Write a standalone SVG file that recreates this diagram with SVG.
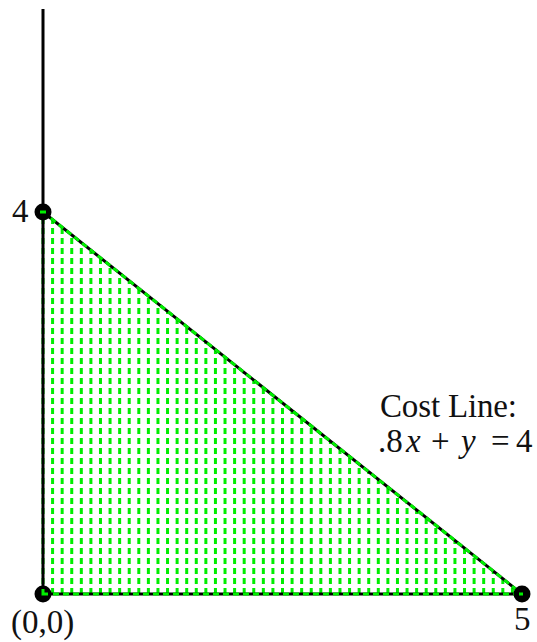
<svg xmlns="http://www.w3.org/2000/svg" width="537" height="642" viewBox="0 0 537 642">
<style>
.ax{stroke:#000;stroke-width:3;fill:none}
.gr{stroke:#00ee00;stroke-width:3;fill:none;stroke-dasharray:6 4}
.pt{fill:#000}
.lb{font-family:"Liberation Serif",serif;font-size:33px;fill:#111}
</style>
<rect width="537" height="642" fill="#fff"/>
<g id="region">
<path class="gr" d="M43 594V212M52.58 594V219.64M62.16 594V227.28M71.74 594V234.92M81.32 594V242.56M90.9 594V250.2M100.48 594V257.84M110.06 594V265.48M119.64 594V273.12M129.22 594V280.76M138.8 594V288.4M148.38 594V296.04M157.96 594V303.68M167.54 594V311.32M177.12 594V318.96M186.7 594V326.6M196.28 594V334.24M205.86 594V341.88M215.44 594V349.52M225.02 594V357.16M234.6 594V364.8M244.18 594V372.44M253.76 594V380.08M263.34 594V387.72M272.92 594V395.36M282.5 594V403M292.08 594V410.64M301.66 594V418.28M311.24 594V425.92M320.82 594V433.56M330.4 594V441.2M339.98 594V448.84M349.56 594V456.48M359.14 594V464.12M368.72 594V471.76M378.3 594V479.4M387.88 594V487.04M397.46 594V494.68M407.04 594V502.32M416.62 594V509.96M426.2 594V517.6M435.78 594V525.24M445.36 594V532.88M454.94 594V540.52M464.52 594V548.16M474.1 594V555.8M483.68 594V563.44M493.26 594V571.08M502.84 594V578.72M512.42 594V586.36"/>
</g>
<g id="connectors">
<path class="ax" d="M43 9V594H522L43 212"/>
<path class="gr" d="M43 594H522M43 212L522 594"/>
</g>
<g id="p04">
<circle class="pt" cx="43" cy="212" r="8.5"/>
<path d="M40 212h6" stroke="#00ee00" stroke-width="3"/>
<text class="lb" x="12" y="222">4</text>
</g>
<g id="p00">
<circle class="pt" cx="43" cy="594" r="8.5"/>
<path d="M43 589v5h5" stroke="#00ee00" stroke-width="3" fill="none"/>
<text class="lb" x="11" y="633">(0,0)</text>
</g>
<g id="p50">
<circle class="pt" cx="522" cy="594" r="8.5"/>
<path d="M519 594h4" stroke="#00ee00" stroke-width="3"/>
<text class="lb" x="514" y="630">5</text>
</g>
<g id="costlabel">
<text class="lb" x="380" y="417" textLength="137">Cost Line:</text>
<text class="lb" y="452"><tspan x="378">.8</tspan><tspan x="406" font-style="italic">x</tspan><tspan x="431">+</tspan><tspan x="461" font-style="italic">y</tspan><tspan x="491">=</tspan><tspan x="516">4</tspan></text>
</g>
</svg>
